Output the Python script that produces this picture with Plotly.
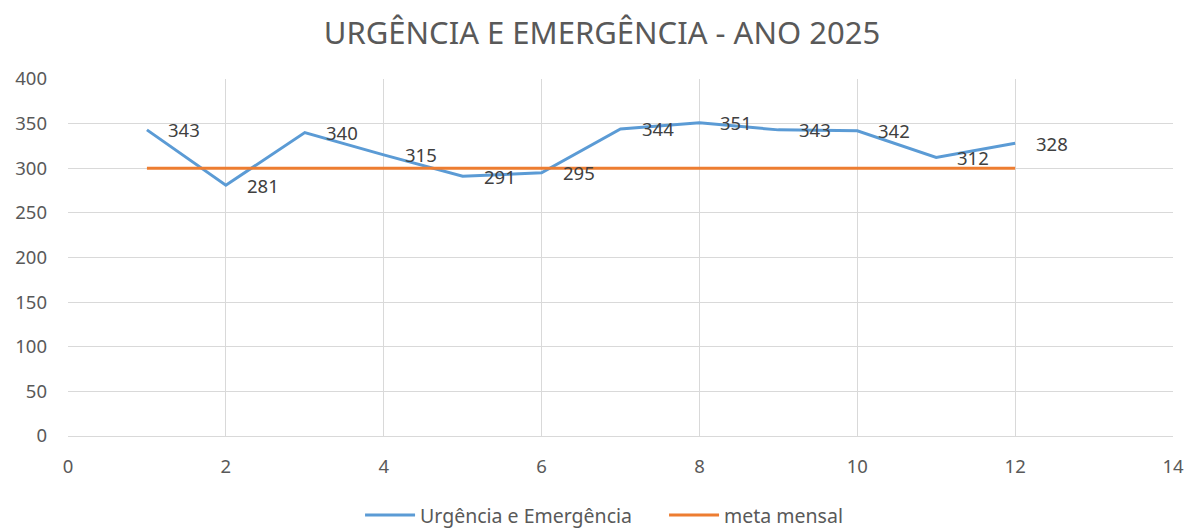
import plotly.graph_objects as go

meses = [1, 2, 3, 4, 5, 6, 7, 8, 9, 10, 11, 12]
urgencia = [343, 281, 340, 315, 291, 295, 344, 351, 343, 342, 312, 328]
meta = [300, 300, 300, 300, 300, 300, 300, 300, 300, 300, 300, 300]
x_ticks = [0, 2, 4, 6, 8, 10, 12, 14]
y_ticks = [0, 50, 100, 150, 200, 250, 300, 350, 400]

FONT = "Noto Sans"
W, H = 1186, 528

fig = go.Figure()
fig.add_trace(go.Scatter(
    x=meses, y=urgencia, mode="lines", name="Urgência e Emergência",
    line=dict(color="#5B9BD5", width=3),
))
fig.add_trace(go.Scatter(
    x=meses, y=meta, mode="lines", name="meta mensal",
    line=dict(color="#ED7D31", width=3),
))

for m, v in zip(meses, urgencia):
    fig.add_annotation(x=m, y=v, xref="x", yref="y", text=str(v), showarrow=False,
                       xanchor="left", yanchor="middle", xshift=19,
                       font=dict(family=FONT, size=18.5, color="#404040"))

fig.update_layout(
    width=W, height=H,
    paper_bgcolor="white", plot_bgcolor="white",
    margin=dict(l=68, r=13, t=79, b=92, autoexpand=False),
    title=dict(text="URGÊNCIA E EMERGÊNCIA - ANO 2025", x=602 / W, xanchor="center",
               y=1 - 33 / H, yanchor="middle",
               font=dict(family=FONT, size=31, color="#595959")),
    font=dict(family=FONT, color="#595959", size=18.5),
    showlegend=True,
    legend=dict(orientation="h", x=0.2643, xanchor="left", y=-0.222, yanchor="middle",
                itemwidth=50, entrywidth=239,
                font=dict(family=FONT, size=19.5, color="#595959")),
    hovermode=False,
)
fig.update_xaxes(range=[0, 14], tickvals=x_ticks, showgrid=True, gridcolor="#D9D9D9",
                 gridwidth=1, zeroline=False, showline=True, linecolor="#D9D9D9",
                 ticks="", ticklabelstandoff=14, automargin=False,
                 tickfont=dict(family=FONT, size=18.5, color="#595959"))
fig.update_yaxes(range=[0, 400], tickvals=y_ticks, showgrid=True, gridcolor="#D9D9D9",
                 gridwidth=1, zeroline=False, showline=False, ticks="",
                 ticklabelstandoff=20, automargin=False,
                 tickfont=dict(family=FONT, size=18.5, color="#595959"))

fig.write_html("out.html",
               config={"displayModeBar": False, "staticPlot": True},
               post_script="document.body.style.margin='0';document.body.style.overflow='hidden';")
